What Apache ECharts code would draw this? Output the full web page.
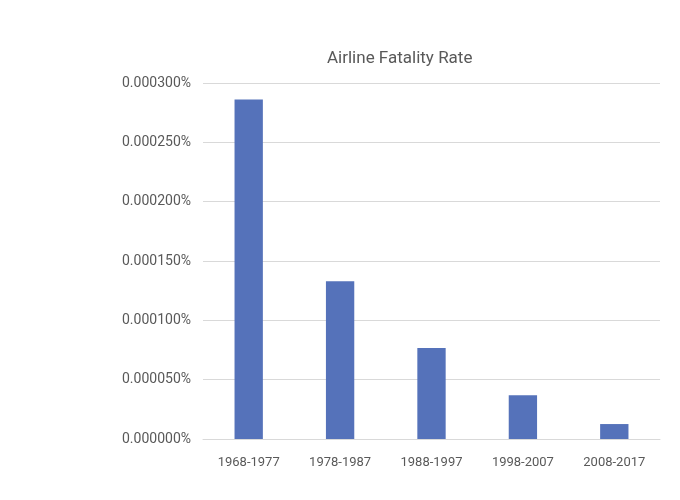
<!DOCTYPE html>
<html>
<head>
<meta charset="utf-8">
<script src="https://cdn.jsdelivr.net/npm/echarts@6/dist/echarts.min.js"></script>
<style>html,body{margin:0;padding:0;background:#fff}#c{width:680px;height:500px}</style>
</head>
<body>
<div id="c"></div>
<script>
const categories = ['1968-1977', '1978-1987', '1988-1997', '1998-2007', '2008-2017'];
const fatalityRatePct = [0.000286, 0.000133, 0.0000767, 0.0000368, 0.0000126];
const titleText = 'Airline Fatality Rate';
const FONT = '"Roboto", "Noto Sans", sans-serif';

const chart = echarts.init(document.getElementById('c'));
chart.setOption({
  animation: false,
  backgroundColor: '#ffffff',
  title: {
    text: titleText,
    left: 322,
    top: 45,
    textStyle: { fontFamily: FONT, fontSize: 17, fontWeight: 'normal', color: '#595959' }
  },
  grid: { left: 203, right: 20, top: 83, bottom: 61, containLabel: false },
  xAxis: {
    type: 'category',
    data: categories,
    axisLine: { show: true, lineStyle: { color: '#d9d9d9', width: 1 } },
    axisTick: { show: false },
    axisLabel: { color: '#595959', fontFamily: FONT, fontSize: 13, margin: 17 }
  },
  yAxis: {
    type: 'value',
    min: 0,
    max: 0.0003,
    interval: 0.00005,
    axisLine: { show: false },
    axisTick: { show: false },
    splitLine: { lineStyle: { color: '#d9d9d9', width: 1 } },
    axisLabel: {
      color: '#595959', fontFamily: FONT, fontSize: 14, margin: 12,
      formatter: v => v.toFixed(6) + '%'
    }
  },
  series: [{
    type: 'bar',
    data: fatalityRatePct,
    barWidth: '31%',
    itemStyle: { color: '#5572BA' }
  }]
});
</script>
</body>
</html>
